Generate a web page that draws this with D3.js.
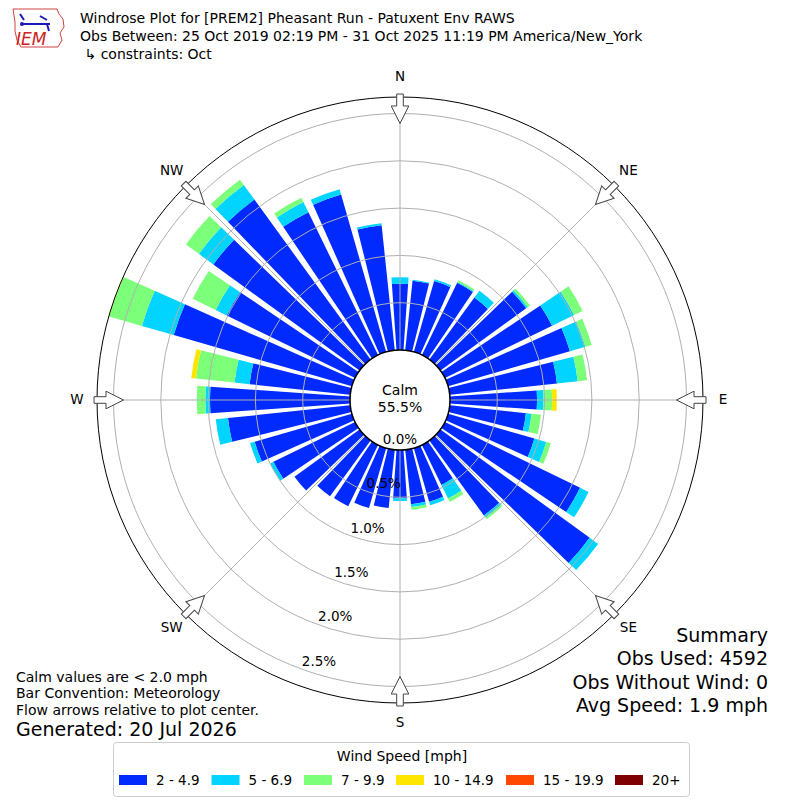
<!DOCTYPE html>
<html>
<head>
<meta charset="utf-8">
<script src="https://cdn.jsdelivr.net/npm/d3@7"></script>
<style>
  body { margin: 0; background: #fff; }
  text { font-family: "DejaVu Sans", sans-serif; }
</style>
</head>
<body>
<svg id="chart" width="800" height="800"></svg>
<script>
// wind directions (deg, meteorological), 10 degree bins
var directions = [0, 10, 20, 30, 40, 50, 60, 70, 80, 90, 100, 110,
  120, 130, 140, 150, 160, 170, 180, 190, 200, 210, 220, 230,
  240, 250, 260, 270, 280, 290, 300, 310, 320, 330, 340, 350];

// frequency (%) per direction for each speed bin
var spd2to5 = [0.70, 0.74, 0.78, 0.85, 0.81, 1.12, 1.26, 1.34, 1.14, 0.92, 0.81, 0.95,
  1.59, 1.95, 0.98, 0.47, 0.59, 0.58, 0.51, 0.62, 0.66, 0.72, 0.73, 0.85,
  0.96, 1.07, 1.30, 1.48, 1.07, 1.96, 1.51, 1.91, 2.09, 1.68, 1.73, 1.33];
var spd5to7 = [0.07, 0.01, 0.02, 0.01, 0.09, 0.02, 0.26, 0.17, 0.22, 0.07, 0.06, 0.13,
  0.10, 0.11, 0.03, 0.16, 0.04, 0.03, 0.03, 0.00, 0.00, 0.00, 0.00, 0.00,
  0.04, 0.05, 0.13, 0.05, 0.16, 0.35, 0.13, 0.19, 0.19, 0.12, 0.06, 0.02];
var spd7to10 = [0.00, 0.00, 0.00, 0.02, 0.00, 0.03, 0.10, 0.07, 0.10, 0.09, 0.10, 0.05,
  0.00, 0.00, 0.02, 0.04, 0.00, 0.03, 0.00, 0.00, 0.00, 0.00, 0.00, 0.00,
  0.00, 0.00, 0.00, 0.09, 0.41, 0.36, 0.27, 0.17, 0.07, 0.05, 0.00, 0.00];
var spd10to15 = [0, 0, 0, 0, 0, 0, 0, 0, 0, 0.05, 0, 0,
  0, 0, 0, 0, 0, 0, 0, 0, 0, 0, 0, 0,
  0, 0, 0, 0, 0.05, 0.05, 0, 0, 0, 0, 0, 0];
var spd15to20 = [0, 0, 0, 0, 0, 0, 0, 0, 0, 0, 0, 0,
  0, 0, 0, 0, 0, 0, 0, 0, 0, 0, 0, 0,
  0, 0, 0, 0, 0, 0, 0, 0, 0, 0, 0, 0];
var spd20plus = [0, 0, 0, 0, 0, 0, 0, 0, 0, 0, 0, 0,
  0, 0, 0, 0, 0, 0, 0, 0, 0, 0, 0, 0,
  0, 0, 0, 0, 0, 0, 0, 0, 0, 0, 0, 0];

var speedLabels = ["2 - 4.9", "5 - 6.9", "7 - 9.9", "10 - 14.9", "15 - 19.9", "20+"];
var speedColors = ["#002aff", "#00d4ff", "#7cff79", "#ffe600", "#ff4800", "#7f0000"];
var radialTicks = [0, 0.5, 1.0, 1.5, 2.0, 2.5];
var compass = ["N", "NE", "E", "SE", "S", "SW", "W", "NW"];
var calmPct = 55.5;

var series = [spd2to5, spd5to7, spd7to10, spd10to15, spd15to20, spd20plus];

var svg = d3.select('#chart');
var cx = 400, cy = 400;
var outerR = 303;
var calmR = 50;

var r = d3.scaleLinear().domain([0, 2.5]).range([calmR, 286.5]);
var rad = Math.PI / 180;

// stack the bins per direction
var rows = directions.map(function (d, i) {
  var row = {dir: d};
  speedLabels.forEach(function (s, k) { row[s] = series[k][i]; });
  return row;
});
var stacked = d3.stack().keys(speedLabels)(rows);

var g = svg.append('g').attr('transform', 'translate(' + cx + ',' + cy + ')');

g.append('defs').append('clipPath').attr('id', 'clip')
  .append('circle').attr('r', outerR);

var arc = d3.arc();
var half = 4 * rad;

g.append('g').attr('clip-path', 'url(#clip)')
  .selectAll('g.layer')
  .data(stacked)
  .enter().append('g')
  .attr('class', 'layer')
  .attr('fill', function (d, k) { return speedColors[k]; })
  .selectAll('path')
  .data(function (d) { return d.filter(function (p) { return p[1] - p[0] > 0; }); })
  .enter().append('path')
  .attr('d', function (p) {
    var a = p.data.dir * rad;
    return arc({innerRadius: r(p[0]), outerRadius: r(p[1]),
      startAngle: a - half, endAngle: a + half});
  });

// grid rings
g.selectAll('circle.ring')
  .data(radialTicks.slice(1))
  .enter().append('circle')
  .attr('class', 'ring')
  .attr('r', function (d) { return r(d); })
  .attr('fill', 'none')
  .attr('stroke', '#b0b0b0')
  .attr('stroke-width', 1);

// spokes
g.selectAll('line.spoke')
  .data(compass)
  .enter().append('line')
  .attr('class', 'spoke')
  .attr('x1', function (d, i) { return calmR * Math.sin(i * 45 * rad); })
  .attr('y1', function (d, i) { return -calmR * Math.cos(i * 45 * rad); })
  .attr('x2', function (d, i) { return outerR * Math.sin(i * 45 * rad); })
  .attr('y2', function (d, i) { return -outerR * Math.cos(i * 45 * rad); })
  .attr('stroke', '#b0b0b0')
  .attr('stroke-width', 1);

g.append('circle')
  .attr('r', outerR)
  .attr('fill', 'none')
  .attr('stroke', '#000')
  .attr('stroke-width', 1);

// calm circle
g.append('circle')
  .attr('r', calmR)
  .attr('fill', '#fff')
  .attr('stroke', '#000')
  .attr('stroke-width', 1.5);

g.append('text').attr('x', 0).attr('y', -10).attr('dy', '0.35em')
  .attr('text-anchor', 'middle').attr('font-size', 14).text('Calm');
g.append('text').attr('x', 0).attr('y', 7).attr('dy', '0.35em')
  .attr('text-anchor', 'middle').attr('font-size', 14).text(calmPct.toFixed(1) + '%');

// radial tick labels
var la = 20 * rad;
g.selectAll('text.rlab')
  .data(radialTicks)
  .enter().append('text')
  .attr('class', 'rlab')
  .attr('x', function (d) { return -r(d) * Math.sin(la) + 17; })
  .attr('y', function (d) { return r(d) * Math.cos(la) - 8; })
  .attr('dy', '0.35em')
  .attr('text-anchor', 'middle')
  .attr('font-size', 13.5)
  .text(function (d) { return d.toFixed(1) + '%'; });

// flow arrows pointing to center
var arrowPts = [[-3.3, -306], [3.3, -306], [3.3, -294], [8.8, -294], [0, -276.5],
  [-8.8, -294], [-3.3, -294]];
g.selectAll('path.arrow')
  .data(compass)
  .enter().append('path')
  .attr('class', 'arrow')
  .attr('d', 'M' + arrowPts.join('L') + 'Z')
  .attr('transform', function (d, i) { return 'rotate(' + (i * 45) + ')'; })
  .attr('fill', '#fff')
  .attr('stroke', '#444')
  .attr('stroke-width', 1);

g.selectAll('text.dir')
  .data(compass)
  .enter().append('text')
  .attr('class', 'dir')
  .attr('x', function (d, i) { return 323 * Math.sin(i * 45 * rad); })
  .attr('y', function (d, i) { return -323 * Math.cos(i * 45 * rad) - 1; })
  .attr('dy', '0.35em')
  .attr('text-anchor', 'middle')
  .attr('font-size', 13.5)
  .text(function (d) { return d; });

// header
var titles = ['Windrose Plot for [PREM2] Pheasant Run - Patuxent Env RAWS',
  'Obs Between: 25 Oct 2019 02:19 PM - 31 Oct 2025 11:19 PM America/New_York',
  ' \u21b3 constraints: Oct'];
svg.selectAll('text.title')
  .data(titles)
  .enter().append('text')
  .attr('class', 'title')
  .attr('x', 80)
  .attr('y', function (d, i) { return 18 + i * 18; })
  .attr('dy', '0.35em')
  .attr('font-size', 14)
  .attr('xml:space', 'preserve')
  .text(function (d) { return d; });

// logo
var logo = svg.append('g');
logo.append('path')
  .attr('d', 'M13,9 L57,9 L59,14 L63,19 L64,27 L60,33 L62,40 L58,47 L21,47 L17,40 L15,31 L15,22 Z')
  .attr('fill', 'none').attr('stroke', '#d04040').attr('stroke-width', 1);
logo.append('path')
  .attr('d', 'M21,24 L50,24 M40,16 L47,20 M47,24 L49,31 M20,14 L24,20')
  .attr('stroke', '#1a1ab8').attr('stroke-width', 2).attr('fill', 'none');
logo.append('circle').attr('cx', 22).attr('cy', 24).attr('r', 2).attr('fill', '#1a1ab8');
logo.append('text').attr('x', 16).attr('y', 45)
  .attr('font-family', '"Liberation Serif", serif').attr('font-style', 'italic')
  .attr('font-size', 17).attr('fill', '#cc2222').text('IEM');

// footnotes
var notes = ['Calm values are < 2.0 mph', 'Bar Convention: Meteorology',
  'Flow arrows relative to plot center.'];
svg.selectAll('text.note')
  .data(notes)
  .enter().append('text')
  .attr('class', 'note')
  .attr('x', 16)
  .attr('y', function (d, i) { return 677 + i * 16.5; })
  .attr('dy', '0.35em')
  .attr('font-size', 14)
  .text(function (d) { return d; });
svg.append('text').attr('x', 16).attr('y', 729).attr('dy', '0.35em')
  .attr('font-size', 19).text('Generated: 20 Jul 2026');

var summary = ['Summary', 'Obs Used: 4592', 'Obs Without Wind: 0', 'Avg Speed: 1.9 mph'];
svg.selectAll('text.sum')
  .data(summary)
  .enter().append('text')
  .attr('class', 'sum')
  .attr('x', 768)
  .attr('y', function (d, i) { return 635 + i * 23.5; })
  .attr('dy', '0.35em')
  .attr('text-anchor', 'end')
  .attr('font-size', 19)
  .text(function (d) { return d; });

// legend
var leg = svg.append('g');
leg.append('rect').attr('x', 113.5).attr('y', 742.5).attr('width', 576).attr('height', 54)
  .attr('rx', 3).attr('fill', '#fff').attr('stroke', '#cccccc');
leg.append('text').attr('x', 402).attr('y', 756).attr('dy', '0.35em')
  .attr('text-anchor', 'middle').attr('font-size', 14).text('Wind Speed [mph]');
var legX = [119, 211.5, 304, 396, 506, 615];
var items = leg.selectAll('g.item')
  .data(speedLabels)
  .enter().append('g')
  .attr('class', 'item')
  .attr('transform', function (d, i) { return 'translate(' + legX[i] + ',775)'; });
items.append('rect').attr('width', 28).attr('height', 10)
  .attr('fill', function (d, i) { return speedColors[i]; });
items.append('text').attr('x', 37).attr('y', 5).attr('dy', '0.35em')
  .attr('font-size', 13.5).text(function (d) { return d; });
</script>
</body>
</html>
